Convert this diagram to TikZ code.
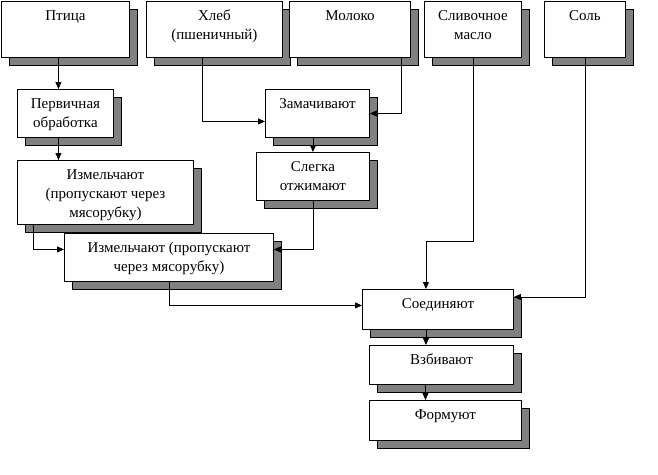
\documentclass[tikz,border=0pt]{standalone}
\usepackage{fontspec}
\setmainfont{Liberation Serif}
\usetikzlibrary{arrows.meta,shadows}
\newcommand{\tekst}[3]{\parbox[t][#2][t]{#1}{\centering\rule{0pt}{19pt}#3}}

\begin{document}
\begin{tikzpicture}[x=1pt, y=-1pt, font=\fontsize{15}{19}\selectfont]
\tikzset{etap/.style={draw, fill=white, inner sep=0pt, anchor=north west, line width=0.9pt,
    drop shadow={shadow xshift=8pt, shadow yshift=-8pt, opacity=1, fill=gray, draw=black}}}
\tikzset{strelka/.style={-{Triangle[length=7pt,width=6pt]}, line width=0.9pt}}
\useasboundingbox (0,0) rectangle (658,474);
% syr'e
\node[etap] (ptica) at (1,1) {\tekst{128pt}{56pt}{Птица}};
\node[etap] (hleb) at (146,1) {\tekst{136pt}{56pt}{Хлеб\\(пшеничный)}};
\node[etap] (moloko) at (289,1) {\tekst{121pt}{56pt}{Молоко}};
\node[etap] (maslo) at (424,1) {\tekst{97pt}{56pt}{Сливочное\\масло}};
\node[etap] (sol) at (544,1) {\tekst{81pt}{56pt}{Соль}};
% obrabotka
\node[etap] (obrab) at (17,89) {\tekst{96pt}{48pt}{Первичная\\обработка}};
\node[etap] (izm1) at (17,160) {\tekst{176pt}{64pt}{Измельчают\\(пропускают через\\мясорубку)}};
\node[etap] (zamach) at (265,89) {\tekst{104pt}{48pt}{Замачивают}};
\node[etap] (otzhim) at (256,152) {\tekst{113pt}{48pt}{Слегка\\отжимают}};
\node[etap] (izm2) at (64,233) {\tekst{209pt}{48pt}{Измельчают (пропускают\\через мясорубку)}};
\node[etap] (soed) at (362,289) {\tekst{151pt}{40pt}{Соединяют}};
\node[etap] (vzbiv) at (369,345) {\tekst{144pt}{39pt}{Взбивают}};
\node[etap] (form) at (369,400) {\tekst{152pt}{40pt}{Формуют}};
% svyazi
\draw[strelka] ([xshift=-7pt]ptica.south) -- ([xshift=-7pt]obrab.north);
\draw[strelka] ([xshift=-7pt]obrab.south) -- ([xshift=-7pt]obrab.south |- izm1.north);
\draw[strelka] ([xshift=-12pt]hleb.south) |- ([yshift=-8pt]zamach.west);
\draw[strelka] ([xshift=-9pt]moloko.south east) |- (zamach.east);
\draw[strelka] (zamach.south -| otzhim.north) -- (otzhim.north);
\draw[strelka] (otzhim.south) |- ([yshift=8pt]izm2.east);
\draw[strelka] ([xshift=16pt]izm1.south west) |- ([yshift=8pt]izm2.west);
\draw[strelka] (izm2.south) |- ([yshift=4pt]soed.west);
\draw[strelka] (maslo.south) -- ++(0,184) -| ([xshift=-12pt]soed.north);
\draw[strelka] (sol.south) |- ([yshift=-8pt]soed.north east);
\draw[strelka] ([xshift=-12pt]soed.south) -- ([xshift=-12pt]soed.south |- vzbiv.north);
\draw[strelka] ([xshift=-16pt]vzbiv.south) -- ([xshift=-16pt]vzbiv.south |- form.north);
\end{tikzpicture}
\end{document}
